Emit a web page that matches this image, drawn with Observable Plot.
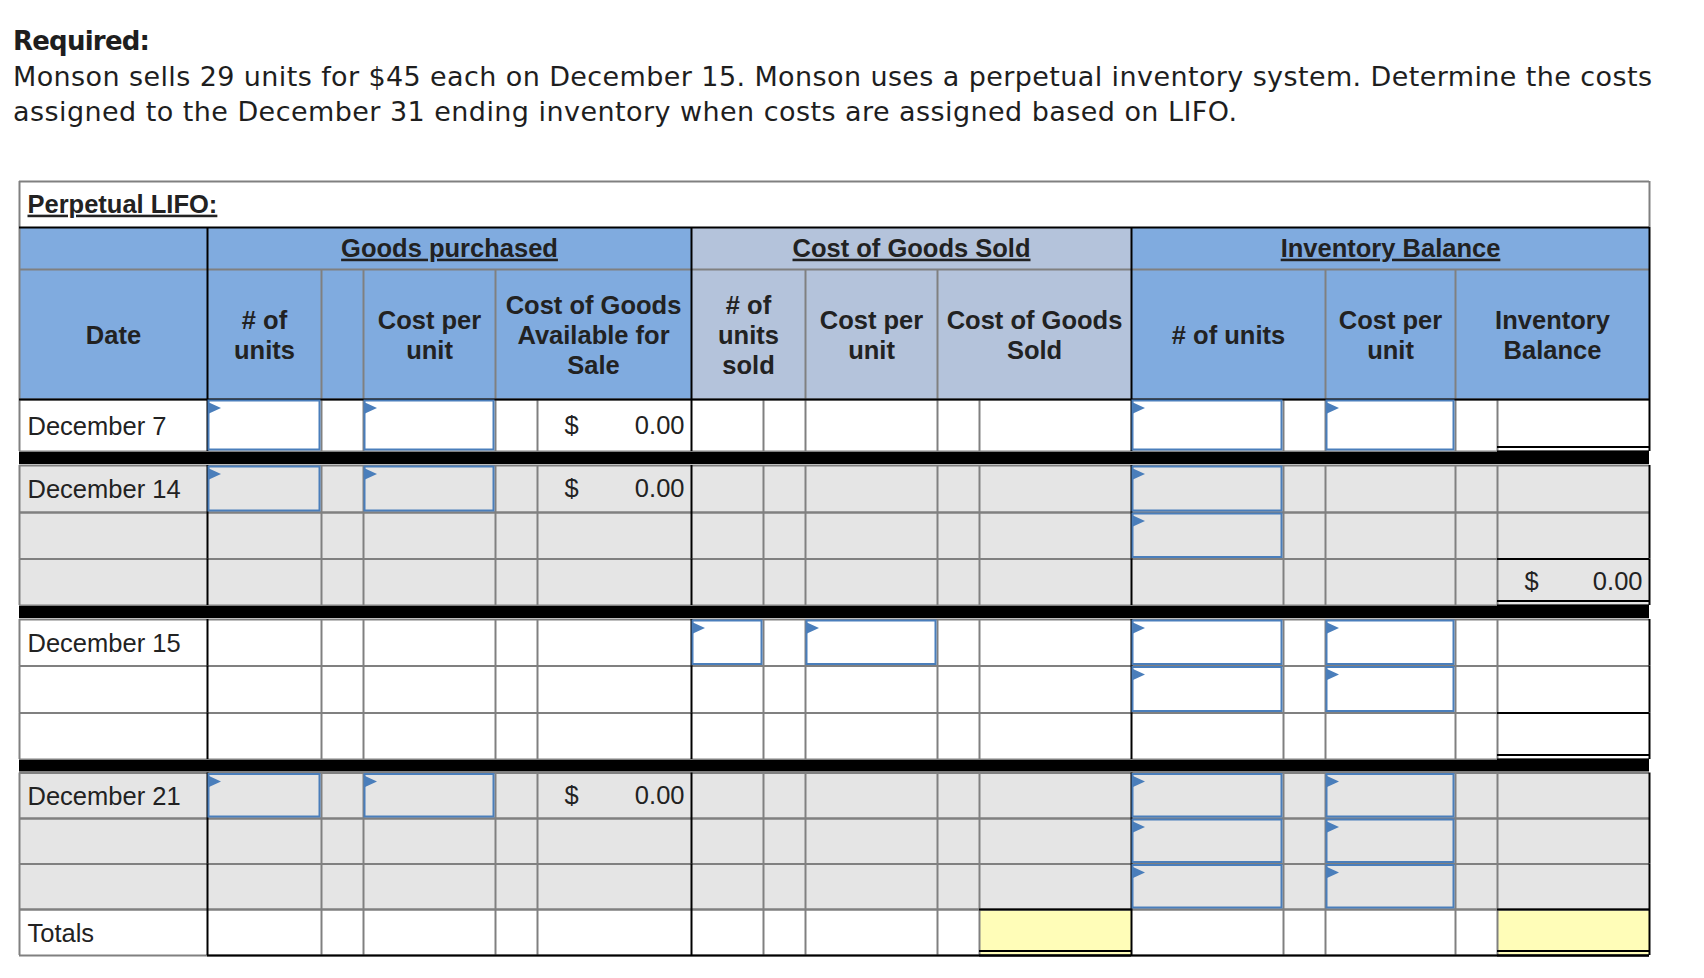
<!DOCTYPE html>
<html>
<head>
<meta charset="utf-8">
<script src="https://cdn.jsdelivr.net/npm/d3@7"></script>
<script src="https://cdn.jsdelivr.net/npm/@observablehq/plot@0.6"></script>
<style>
  html, body { margin: 0; padding: 0; background: #fff; }
  #title { position: relative; width: 1704px; height: 160px; font-family: "DejaVu Sans", Verdana, sans-serif; color: #1e1e1e; }
  .tl { position: absolute; left: 13px; top: 0; white-space: nowrap; font-size: 27px; line-height: 1; }
  #chart svg { display: block; }
</style>
</head>
<body>
<div id="title"></div>
<div id="chart"></div>
<script>
// ---------------- DATA ----------------
const requiredLabel = "Required:";
const questionLines = [
  "Monson sells 29 units for $45 each on December 15. Monson uses a perpetual inventory system. Determine the costs",
  "assigned to the December 31 ending inventory when costs are assigned based on LIFO."
];
const tableTitle = "Perpetual LIFO:";
const groupHeaders = ["", "Goods purchased", "Cost of Goods Sold", "Inventory Balance"];
const columnHeaders = ["Date", "# of\nunits", "", "Cost per\nunit", "Cost of Goods\nAvailable for\nSale",
  "# of\nunits\nsold", "Cost per\nunit", "Cost of Goods\nSold", "# of units", "Cost per\nunit", "Inventory\nBalance"];
const rowDates = ["December 7", "December 14", "", "", "December 15", "", "", "December 21", "", "", "Totals"];
const availableForSale = [0.00, 0.00, null, null, null, null, null, 0.00, null, null, null];
const inventoryBalanceValues = [null, null, null, 0.00, null, null, null, null, null, null, null];
const inputCells = [
  [0, "units"], [0, "cost"], [0, "invUnits"], [0, "invCost"],
  [1, "units"], [1, "cost"], [1, "invUnits"], [2, "invUnits"],
  [4, "soldUnits"], [4, "soldCost"], [4, "invUnits"], [4, "invCost"], [5, "invUnits"], [5, "invCost"],
  [7, "units"], [7, "cost"], [7, "invUnits"], [7, "invCost"], [8, "invUnits"], [8, "invCost"], [9, "invUnits"], [9, "invCost"]
];

// ---------------- LAYOUT & STYLE ----------------
const titleLayout = [
  {baseline: 50, width: 137, bold: true, size: 26},
  {baseline: 86, width: 1639, size: 27},
  {baseline: 121, width: 1224, size: 27}
];
const colWidths = [188, 114, 42, 132, 42, 154, 72, 42, 132, 42, 152, 152, 42, 130, 42, 152];
const fieldCol = {units: 1, cost: 3, avail: 5, soldUnits: 6, soldCost: 8, cogs: 10, invUnits: 11, invCost: 13, invBal: 15};
const groupSpans = [[0, 0], [1, 5], [6, 10], [11, 15]];
const headerSpans = [[0, 0], [1, 1], [2, 2], [3, 3], [4, 5], [6, 7], [8, 8], [9, 10], [11, 12], [13, 13], [14, 15]];
const headerGroup = [0, 1, 1, 1, 1, 2, 2, 2, 3, 3, 3];
const titleRowH = 46, groupRowH = 42, headerRowH = 130;
const rowHeights = [52, 47, 46.5, 46.5, 46.5, 47, 46.5, 45.5, 45.5, 45.5, 46];
const sepAfter = {0: 14, 3: 14, 6: 13.5};
const blackEdges = new Set([1, 6, 11, 16]);
const shadedRows = new Set([1, 2, 3, 7, 8, 9]);
const yellowCells = [[10, 10], [10, 15]];
const doubleRules = [
  {row: 0, col: 15, top: false}, {row: 3, col: 15, top: true}, {row: 6, col: 15, top: true},
  {row: 10, col: 10, top: true}, {row: 10, col: 15, top: true}
];
const C = {blue: "#80abdf", cogs: "#b4c3db", shade: "#e5e5e5", yellow: "#fffdb8", grid: "#808080",
  black: "#000000", input: "#4a7ebb", ink: "#222222", white: "#ffffff"};
const groupFill = [C.blue, C.blue, C.cogs, C.blue];
const FONT = "'Liberation Sans', Arial, Helvetica, sans-serif";
const FS = 25.5;

// ---------------- TITLE ----------------
const titleBox = document.getElementById("title");
[requiredLabel, ...questionLines].forEach((text, i) => {
  const L = titleLayout[i];
  const div = document.createElement("div");
  div.className = "tl";
  div.style.fontSize = L.size + "px";
  if (L.bold) div.style.fontWeight = "700";
  const span = document.createElement("span");
  span.textContent = text;
  const mark = document.createElement("span");
  mark.style.cssText = "display:inline-block;width:0;height:0;vertical-align:baseline";
  div.append(span, mark);
  titleBox.append(div);
  const w = span.getBoundingClientRect().width;
  span.style.letterSpacing = ((L.width - w) / (text.length - 1)) + "px";
  div.style.top = (L.baseline - mark.offsetTop) + "px";
});

// ---------------- GEOMETRY FROM LAYOUT ----------------
const colX = [0];
colWidths.forEach(w => colX.push(colX[colX.length - 1] + w));
const W = colX[colX.length - 1];
const yGroup = titleRowH, yHeader = titleRowH + groupRowH, yBody = yHeader + headerRowH;
const rows = [], seps = [];
let yy = yBody;
rowHeights.forEach((h, i) => {
  rows.push({i, y1: yy, y2: yy + h, yc: yy + h / 2, date: rowDates[i]});
  yy += h;
  if (sepAfter[i]) { seps.push({y1: yy, y2: yy + sepAfter[i]}); yy += sepAfter[i]; }
});
const H = yy;

// fills
const fills = [];
fills.push({x1: 0, x2: W, y1: 0, y2: yGroup, fill: C.white});
groupSpans.forEach((s, g) => fills.push({x1: colX[s[0]], x2: colX[s[1] + 1], y1: yGroup, y2: yHeader, fill: groupFill[g]}));
headerSpans.forEach((s, k) => fills.push({x1: colX[s[0]], x2: colX[s[1] + 1], y1: yHeader, y2: yBody, fill: groupFill[headerGroup[k]]}));
rows.forEach(r => fills.push({x1: 0, x2: W, y1: r.y1, y2: r.y2, fill: shadedRows.has(r.i) ? C.shade : C.white}));
yellowCells.forEach(([ri, c]) => fills.push({x1: colX[c], x2: colX[c + 1], y1: rows[ri].y1, y2: rows[ri].y2, fill: C.yellow}));

// lines
const vsegs = [], hsegs = [];
vsegs.push({x: 0, y1: 0, y2: yGroup, black: false}, {x: W, y1: 0, y2: yGroup, black: false});
[...new Set(groupSpans.flatMap(s => [s[0], s[1] + 1]))].forEach(e =>
  vsegs.push({x: colX[e], y1: yGroup, y2: yHeader, black: blackEdges.has(e)}));
[...new Set(headerSpans.flatMap(s => [s[0], s[1] + 1]))].forEach(e =>
  vsegs.push({x: colX[e], y1: yHeader, y2: yBody, black: blackEdges.has(e)}));
rows.forEach(r => colX.forEach((x, e) => vsegs.push({x, y1: r.y1, y2: r.y2, black: blackEdges.has(e)})));
hsegs.push({y: 0, x1: 0, x2: W, black: false});
hsegs.push({y: yGroup, x1: 0, x2: W, black: true});
hsegs.push({y: yHeader, x1: 0, x2: W, black: false});
rows.forEach(r => { hsegs.push({y: r.y1, x1: 0, x2: W, black: false}); hsegs.push({y: r.y2, x1: 0, x2: W, black: false}); });
hsegs.push({y: yBody, x1: 0, x2: W, black: true});
hsegs.push({y: H, x1: colX[1], x2: W, black: true});
doubleRules.forEach(d => {
  const r = rows[d.row], x1 = colX[d.col], x2 = colX[d.col + 1];
  hsegs.push({y: r.y2 - 4.5, x1, x2, black: true});
  hsegs.push({y: r.y2, x1, x2, black: true});
  if (d.top) hsegs.push({y: r.y1, x1, x2, black: true});
});

// input boxes
const boxes = inputCells.map(([ri, f]) => {
  const c = fieldCol[f], r = rows[ri];
  return {x1: colX[c], x2: colX[c + 1], y1: r.y1, y2: r.y2};
});

// text tables
const groupText = groupSpans.map((s, g) => ({x: (colX[s[0]] + colX[s[1] + 1]) / 2, y: (yGroup + yHeader) / 2, label: groupHeaders[g]})).filter(d => d.label);
const headerText = headerSpans.map((s, k) => ({x: (colX[s[0]] + colX[s[1] + 1]) / 2, y: (yHeader + yBody) / 2, label: columnHeaders[k]})).filter(d => d.label);
const money = [];
rows.forEach(r => {
  if (availableForSale[r.i] != null) money.push({xl: colX[fieldCol.avail], xr: colX[fieldCol.avail + 1], y: r.yc, v: availableForSale[r.i]});
  if (inventoryBalanceValues[r.i] != null) money.push({xl: colX[fieldCol.invBal], xr: colX[fieldCol.invBal + 1], y: r.yc, v: inventoryBalanceValues[r.i]});
});

const flag = {
  draw(ctx, size) {
    const r = Math.sqrt(size / Math.PI);
    ctx.moveTo(-r, -r * 0.9); ctx.lineTo(r, 0); ctx.lineTo(-r, r * 0.9); ctx.closePath();
  }
};

const textBase = {fontFamily: FONT, fontSize: FS, fill: C.ink};

const plot = Plot.plot({
  width: 1704,
  height: 818,
  x: {domain: [0, W], range: [19, 1649], axis: null},
  y: {domain: [0, H], range: [21, 795], axis: null},
  color: {type: "identity"},
  style: {background: "#fff"},
  marks: [
    Plot.rect(fills, {x1: "x1", x2: "x2", y1: "y1", y2: "y2", fill: "fill"}),
    Plot.ruleY(hsegs.filter(d => !d.black), {y: "y", x1: "x1", x2: "x2", stroke: C.grid, strokeWidth: 2}),
    Plot.ruleX(vsegs.filter(d => !d.black), {x: "x", y1: "y1", y2: "y2", stroke: C.grid, strokeWidth: 2}),
    Plot.rect(seps, {x1: 0, x2: W, y1: d => d.y1 + 1, y2: d => d.y2 - 1, fill: C.black}),
    Plot.ruleX(vsegs.filter(d => d.black), {x: "x", y1: "y1", y2: "y2", stroke: C.black, strokeWidth: 2}),
    Plot.ruleY(hsegs.filter(d => d.black), {y: "y", x1: "x1", x2: "x2", stroke: C.black, strokeWidth: 2}),
    Plot.rect(boxes, {x1: "x1", x2: "x2", y1: "y1", y2: "y2", inset: 1.5, fill: "none", stroke: C.input, strokeWidth: 2}),
    Plot.dot(boxes, {x: "x1", y: "y1", dx: 7.5, dy: 8.5, r: 6, symbol: flag, fill: C.input, stroke: "none"}),
    Plot.text([tableTitle], {x: 0, y: yGroup / 2, text: d => d, dx: 8, textAnchor: "start", fontWeight: "bold", ariaDescription: "underline", ...textBase}),
    Plot.text(groupText, {x: "x", y: "y", text: "label", fontWeight: "bold", ariaDescription: "underline", ...textBase}),
    Plot.text(headerText, {x: "x", y: "y", text: "label", fontWeight: "bold", lineHeight: 1.18, ...textBase}),
    Plot.text(rows.filter(r => r.date), {x: 0, y: d => d.yc + 1, text: "date", dx: 8, textAnchor: "start", ...textBase}),
    Plot.text(money, {x: "xl", y: d => d.y, text: () => "$", dx: 27, textAnchor: "start", ...textBase}),
    Plot.text(money, {x: "xr", y: d => d.y, text: d => d3.format(".2f")(d.v), dx: -7, textAnchor: "end", ...textBase})
  ]
});

d3.select(plot).selectAll('g[aria-description="underline"] text').style("text-decoration", "underline");
document.getElementById("chart").append(plot);
</script>
</body>
</html>
